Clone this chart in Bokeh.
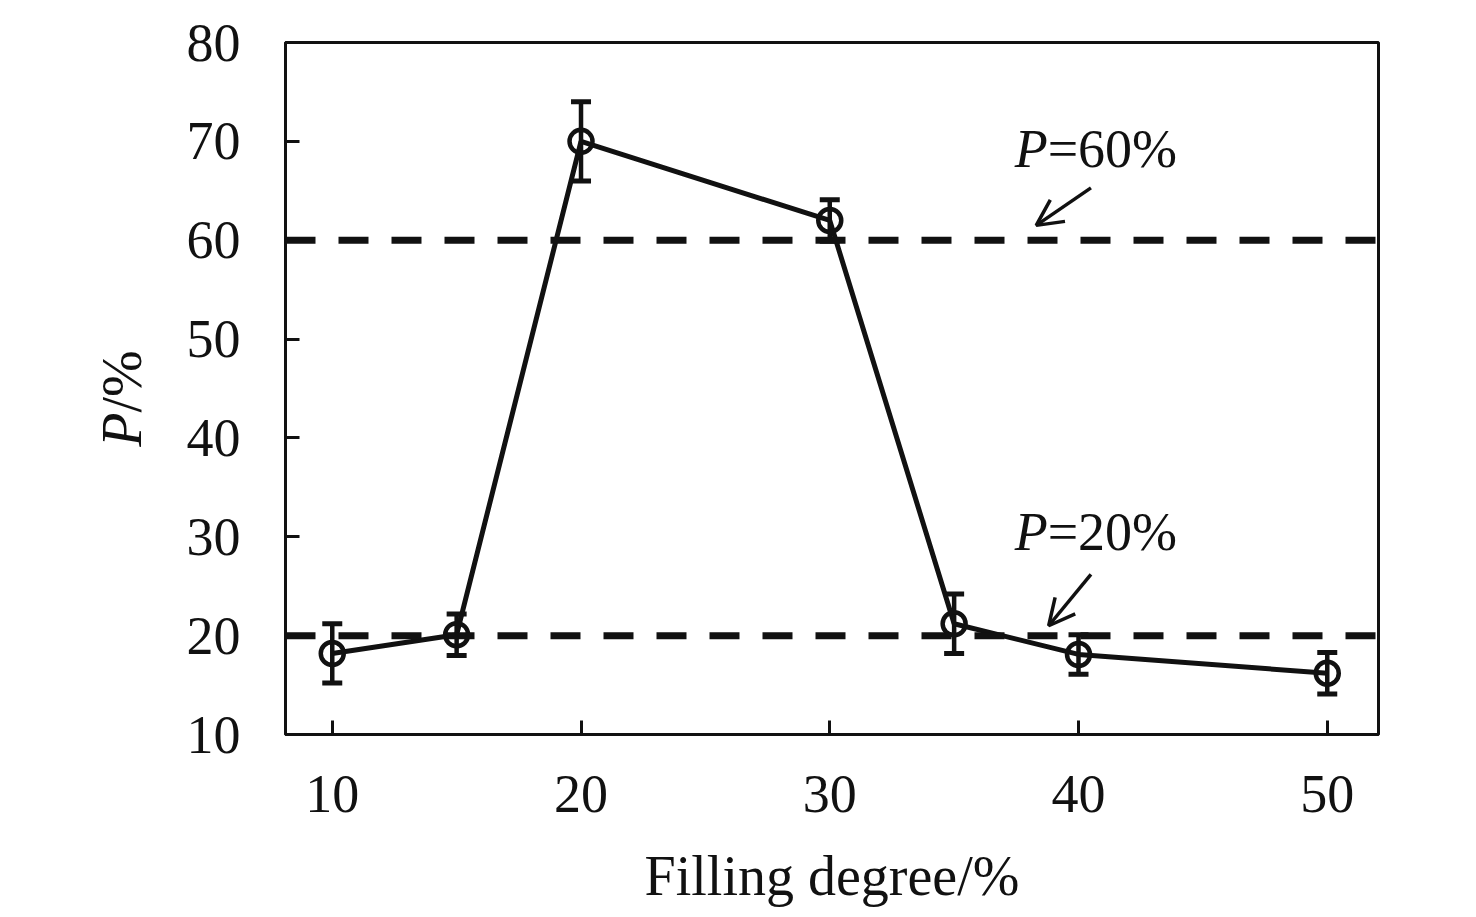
import math
from bokeh.plotting import figure
from bokeh.layouts import row
from bokeh.core.properties import value
from bokeh.models import (ColumnDataSource, Whisker, TeeHead, Span, Arrow, OpenHead,
                          Label, FixedTicker)
from bokeh.embed import file_html
from bokeh.resources import INLINE

# ---- data ----
filling = [10, 15, 20, 30, 35, 40, 50]
p_value = [18.2, 20.1, 70.0, 62.0, 21.2, 18.1, 16.2]
p_error = [3.0, 2.1, 4.0, 2.1, 3.0, 2.0, 2.1]
thresholds = [60, 20]
threshold_labels = ["=60%", "=20%"]
x_ticks = [10, 20, 30, 40, 50]
y_ticks = [10, 20, 30, 40, 50, 60, 70, 80]
y_label_parts = ["P", "/%"]

# annotation anchors (data units)
label_x = 38.76
label_y = [69.2, 30.5]
arrow_start = [(40.5, 65.3), (40.5, 26.2)]
arrow_end = [(38.3, 61.5), (38.8, 21.0)]

FONT = "Liberation Serif"
INK = "#111111"

H = 909
W_TOTAL = 1460
W_LEFT = 170          # strip that carries the rotated y-axis title
FRAME_LEFT, FRAME_RIGHT, FRAME_TOP, FRAME_BOTTOM = 285, 1378, 42, 734

src = ColumnDataSource(dict(
    x=filling, y=p_value,
    upper=[v + e for v, e in zip(p_value, p_error)],
    lower=[v - e for v, e in zip(p_value, p_error)],
))

# ---- left strip with the y-axis title "P/%" (italic P) ----
side = figure(width=W_LEFT, height=H, x_range=(0, W_LEFT), y_range=(0, H),
              output_backend="svg", toolbar_location=None,
              x_axis_location=None, y_axis_location=None,
              min_border=0)
side.grid.visible = False
side.outline_line_color = None
side.background_fill_color = "white"
side.border_fill_color = "white"
ylab_x = 121
ylab_y = 423
side.text(x=[ylab_x], y=[ylab_y], text=[y_label_parts[0]], angle=math.pi / 2,
          text_font=value(FONT), text_font_size="56px", text_font_style="italic",
          text_align="right", text_baseline="alphabetic", text_color=INK)
side.text(x=[ylab_x], y=[ylab_y], text=[y_label_parts[1]], angle=math.pi / 2,
          text_font=value(FONT), text_font_size="56px",
          text_align="left", text_baseline="alphabetic", text_color=INK)

# ---- main chart ----
p = figure(width=W_TOTAL - W_LEFT, height=H, x_range=(8.12, 52.06), y_range=(10, 80),
           output_backend="svg", toolbar_location=None,
           min_border_left=FRAME_LEFT - W_LEFT, min_border_right=W_TOTAL - FRAME_RIGHT,
           min_border_top=FRAME_TOP, min_border_bottom=H - FRAME_BOTTOM)
p.background_fill_color = "white"
p.border_fill_color = "white"
p.grid.visible = False
p.outline_line_color = INK
p.outline_line_width = 3

for ax in (p.xaxis[0], p.yaxis[0]):
    ax.axis_line_color = INK
    ax.axis_line_width = 3
    ax.major_tick_in = 14
    ax.major_tick_out = 0
    ax.major_tick_line_width = 3
    ax.major_tick_line_color = INK
    ax.minor_tick_line_color = None
    ax.major_label_text_font = FONT
    ax.major_label_text_font_size = "54px"
    ax.major_label_text_color = INK

p.xaxis.ticker = FixedTicker(ticks=x_ticks)
p.yaxis.ticker = FixedTicker(ticks=y_ticks)
p.xaxis.major_label_standoff = 41
p.yaxis.major_label_standoff = 45
p.xaxis.axis_label = "Filling degree/%"
p.xaxis.axis_label_text_font = FONT
p.xaxis.axis_label_text_font_style = "normal"
p.xaxis.axis_label_text_font_size = "56px"
p.xaxis.axis_label_text_color = INK
p.xaxis.axis_label_standoff = 30

# threshold dashed lines
for t in thresholds:
    p.add_layout(Span(location=t, dimension="width", line_color=INK,
                      line_width=7, line_dash="30 23"))

# main curve
p.line("x", "y", source=src, line_color=INK, line_width=5)
p.add_layout(Whisker(base="x", upper="upper", lower="lower", source=src,
                     line_color=INK, line_width=4.5,
                     upper_head=TeeHead(size=20, line_width=5, line_color=INK),
                     lower_head=TeeHead(size=20, line_width=5, line_color=INK)))
p.scatter("x", "y", source=src, marker="circle", size=23, fill_color=None,
          line_color=INK, line_width=4.5)

# threshold annotations
for t_lab, ly, (xs, ys), (xe, ye) in zip(threshold_labels, label_y, arrow_start, arrow_end):
    p.add_layout(Label(x=label_x, y=ly, text="P", text_font=FONT, text_font_size="54px",
                       text_font_style="italic", text_align="right",
                       text_baseline="alphabetic", text_color=INK))
    p.add_layout(Label(x=label_x, y=ly, text=t_lab, text_font=FONT, text_font_size="54px",
                       text_align="left", text_baseline="alphabetic", text_color=INK))
    p.add_layout(Arrow(x_start=xs, y_start=ys, x_end=xe, y_end=ye,
                       line_color=INK, line_width=3.5,
                       end=OpenHead(size=26, line_width=3.5, line_color=INK)))

layout = row(side, p, spacing=0)
open("out.html", "w").write(file_html(layout, INLINE))
